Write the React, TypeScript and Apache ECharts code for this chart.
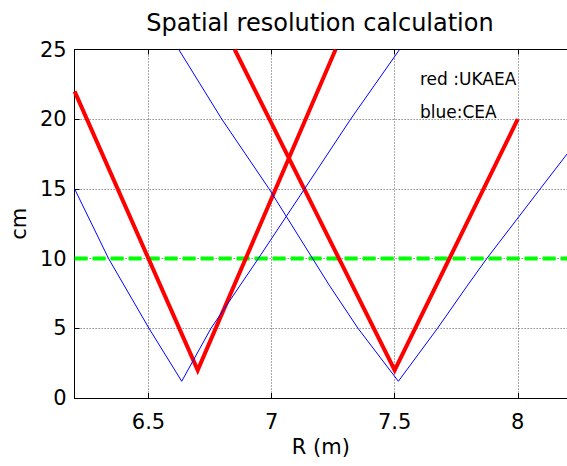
import React, { useEffect, useRef } from "react";
import * as echarts from "echarts";

// Resolution curves, [R (m), resolution (cm)]
const ukaeaLeft: [number, number][] = [
  [6.2, 22],
  [6.7, 2],
  [7.26, 25],
];
const ukaeaRight: [number, number][] = [
  [6.85, 25],
  [7.5, 2],
  [8.0, 20],
];
const ceaLeft: [number, number][] = [
  [6.2, 15],
  [6.338, 10],
  [6.502, 5],
  [6.635, 1.2],
  [6.754, 5],
  [6.946, 10],
  [7.134, 15],
  [7.321, 20],
  [7.52, 25],
];
const ceaRight: [number, number][] = [
  [6.623, 25],
  [6.798, 20],
  [6.99, 15],
  [7.234, 8.1],
  [7.351, 5],
  [7.515, 1.2],
  [7.674, 5],
  [7.794, 8.03],
  [7.874, 10],
  [8.091, 15],
  [8.2, 17.5],
];
const targetLevel = 10;
const xRange = [6.2, 8.2];
const xTicks = [6.5, 7, 7.5, 8];
const yTicks = [0, 5, 10, 15, 20, 25];

const FONT = "DejaVu Sans";

export default function App() {
  const ref = useRef<HTMLDivElement>(null);

  useEffect(() => {
    if (!ref.current) return;
    const chart = echarts.init(ref.current, undefined, { renderer: "svg" });

    const gridLine = {
      show: true,
      lineStyle: { color: "#555", width: 1, type: [1, 2] as number[] },
    };
    const axisLine = { show: true, lineStyle: { color: "#000", width: 1 } };

    chart.setOption({
      animation: false,
      backgroundColor: "#fff",
      title: {
        text: "Spatial resolution calculation",
        left: 320,
        top: 11,
        textAlign: "center",
        padding: 0,
        textStyle: {
          fontFamily: FONT,
          fontSize: 24,
          fontWeight: "normal",
          color: "#000",
        },
      },
      grid: { left: 71.5, right: -3, top: 49.5, bottom: 68 },
      xAxis: [
        {
          type: "value",
          min: xRange[0],
          max: xRange[1],
          name: "R (m)",
          nameLocation: "middle",
          nameGap: 38,
          nameTextStyle: { fontFamily: FONT, fontSize: 21, color: "#000" },
          axisLine,
          axisTick: {
            show: true,
            inside: true,
            length: 5,
            customValues: xTicks,
            lineStyle: { color: "#000" },
          },
          axisLabel: {
            customValues: xTicks,
            margin: 13,
            fontFamily: FONT,
            fontSize: 21,
            color: "#000",
          },
          splitLine: gridLine,
        },
        {
          type: "value",
          position: "top",
          min: xRange[0],
          max: xRange[1],
          axisLine,
          axisTick: {
            show: true,
            inside: true,
            length: 5,
            customValues: xTicks,
            lineStyle: { color: "#000" },
          },
          axisLabel: { show: false },
          splitLine: { show: false },
        },
      ],
      yAxis: [
        {
          type: "value",
          min: yTicks[0],
          max: yTicks[yTicks.length - 1],
          interval: 5,
          name: "cm",
          nameLocation: "middle",
          nameGap: 40,
          nameRotate: 90,
          nameTextStyle: { fontFamily: FONT, fontSize: 21, color: "#000" },
          axisLine,
          axisTick: {
            show: true,
            inside: true,
            length: 5,
            lineStyle: { color: "#000" },
          },
          axisLabel: {
            margin: 8,
            fontFamily: FONT,
            fontSize: 21,
            color: "#000",
          },
          splitLine: gridLine,
        },
      ],
      graphic: [
        {
          type: "text",
          left: 420,
          top: 70,
          style: {
            text: "red :UKAEA",
            fontFamily: FONT,
            fontSize: 17,
            fill: "#000",
          },
        },
        {
          type: "text",
          left: 420,
          top: 103,
          style: {
            text: "blue:CEA",
            fontFamily: FONT,
            fontSize: 17,
            fill: "#000",
          },
        },
      ],
      series: [
        {
          type: "line",
          data: [
            [xRange[0], targetLevel],
            [xRange[1], targetLevel],
          ],
          symbol: "none",
          lineStyle: { color: "#00ff00", width: 4, type: [13, 5], cap: "butt" },
          z: 1,
        },
        {
          type: "line",
          data: ukaeaLeft,
          symbol: "none",
          lineStyle: { color: "#ff0000", width: 4, join: "miter" },
          z: 2,
        },
        {
          type: "line",
          data: ukaeaRight,
          symbol: "none",
          lineStyle: { color: "#ff0000", width: 4, join: "miter" },
          z: 2,
        },
        {
          type: "line",
          data: ceaLeft,
          symbol: "none",
          lineStyle: { color: "#0000ff", width: 1 },
          z: 3,
        },
        {
          type: "line",
          data: ceaRight,
          symbol: "none",
          lineStyle: { color: "#0000ff", width: 1 },
          z: 3,
        },
      ],
    });

    return () => chart.dispose();
  }, []);

  return (
    <div
      ref={ref}
      style={{ position: "fixed", left: 0, top: 0, width: 567, height: 466 }}
    />
  );
}
